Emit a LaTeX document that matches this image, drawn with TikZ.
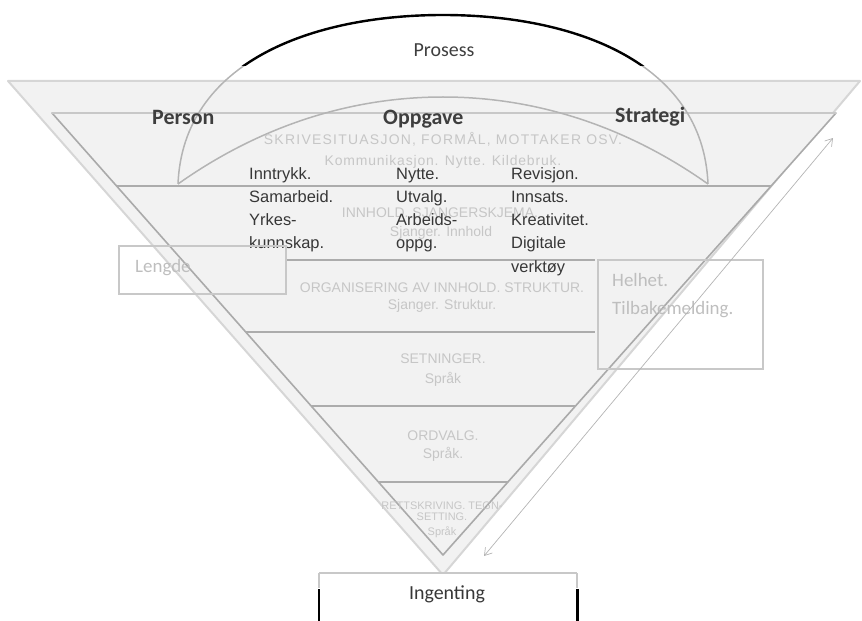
\documentclass[tikz,border=0pt]{standalone}
\usepackage{fontspec}
\setmainfont{Carlito}
\newfontfamily\arial{Liberation Sans}
\newfontfamily\arialwide{Liberation Sans}[LetterSpace=9]
\newfontfamily\arialmid{Liberation Sans}[LetterSpace=6]
\usetikzlibrary{arrows.meta}
\definecolor{trifill}{RGB}{242,242,242}
\definecolor{outeredge}{RGB}{214,214,214}
\definecolor{inneredge}{RGB}{170,170,170}
\definecolor{layerline}{RGB}{172,172,172}
\definecolor{arcgrey}{RGB}{180,180,180}
\definecolor{boxedge}{RGB}{200,200,200}
\definecolor{fainttxt}{RGB}{198,198,198}
\definecolor{boxtxt}{RGB}{190,190,190}
\definecolor{darktxt}{RGB}{55,55,55}
\definecolor{headtxt}{RGB}{62,62,62}
\begin{document}
\begin{tikzpicture}[x=1bp,y=-1bp,
  layer/.style={draw=layerline, line width=1.6bp},
  lensline/.style={draw=arcgrey, line width=1.5bp},
  darkline/.style={font=\arial\fontsize{16.5}{20}\selectfont, text=darktxt, inner sep=0pt, anchor=base west},
  faint/.style={font=\arial\fontsize{14}{16}\selectfont, text=fainttxt, inner sep=0pt, anchor=base},
  tiny/.style={font=\arial\fontsize{11}{13}\selectfont, text=fainttxt, inner sep=0pt, anchor=base},
  head/.style={font=\bfseries\fontsize{22}{24}\selectfont, text=headtxt, inner sep=0pt, anchor=base west},
  sidebox/.style={draw=boxedge, line width=2bp, inner sep=0pt, anchor=north west},
  boxlabel/.style={font=\fontsize{19}{27}\selectfont, text=boxtxt, inner sep=0pt, anchor=base west}
]
\useasboundingbox (0,0) rectangle (862,621);

% outer funnel
\filldraw[fill=trifill, draw=outeredge, line width=2bp, line join=round]
  (8,81) -- (860,81) -- (443,575) -- cycle;
% inner funnel
\filldraw[fill=trifill, draw=inneredge, line width=1.6bp, line join=round]
  (52,113) -- (836,113) -- (443,555) -- cycle;
\draw[draw=boxedge, line width=1.6bp] (52,113) -- (836,113);

% layer dividers
\draw[layer] (117,186) -- (771,186);
\draw[layer] (285,260) -- (595,260);
\draw[layer] (246,332) -- (595,332);
\draw[layer] (311,406) -- (576,406);
\draw[layer] (378,482) -- (508,482);

% process lens
\coordinate (lensL) at (178,184);
\coordinate (lensR) at (708,184);
\coordinate (lensTop) at (443,15);
\coordinate (lensIn) at (443,97);
\draw[lensline] (lensL) .. controls (183,62) and (312,15) .. (lensTop)
  .. controls (574,15) and (703,62) .. (lensR);
\draw[lensline] (lensL) .. controls (240,140) and (330,97) .. (lensIn)
  .. controls (556,97) and (646,140) .. (lensR);
\begin{scope}
  \clip (0,0) rectangle (862,66);
  \draw[black, line width=2.4bp] (lensL) .. controls (183,62) and (312,15) .. (lensTop)
    .. controls (574,15) and (703,62) .. (lensR);
\end{scope}

\node[font=\fontsize{20}{22}\selectfont, text=headtxt, inner sep=0pt, anchor=base] (prosess) at (444,57) {Prosess};

% headings
\node[head] (person) at (152,125) {Person};
\node[head] (oppgave) at (383,125) {Oppgave};
\node[head] (strategi) at (615,123) {Strategi};

% layer captions
\node[faint, font=\arialwide\fontsize{14}{16}\selectfont] (l1a) at (443,145) {SKRIVESITUASJON, FORMÅL, MOTTAKER OSV.};
\node[faint, font=\arialmid\fontsize{14}{16}\selectfont] (l1b) at (443,166) {Kommunikasjon. Nytte. Kildebruk.};
\node[faint] (l2a) at (440,218) {INNHOLD. SJANGERSKJEMA.};
\node[faint] (l2b) at (441,237) {Sjanger. Innhold};
\node[faint] (l3a) at (442,292) {ORGANISERING AV INNHOLD. STRUKTUR.};
\node[faint] (l3b) at (442,309) {Sjanger. Struktur.};
\node[faint] (l4a) at (443,363) {SETNINGER.};
\node[faint] (l4b) at (443,383) {Språk};
\node[faint] (l5a) at (443,440) {ORDVALG.};
\node[faint] (l5b) at (443,458) {Språk.};
\node[tiny] (l6a) at (442,509) {RETTSKRIVING. TEGN-};
\node[tiny] (l6b) at (442,520) {SETTING.};
\node[tiny] (l6c) at (442,535) {Språk};

% three columns of key words
\foreach \w [count=\i] in {Inntrykk., Samarbeid., Yrkes-, kunnskap.}
  \node[darkline] (per\i) at (249,{180+23*(\i-1)}) {\w};
\foreach \w [count=\i] in {Nytte., Utvalg., Arbeids-, oppg.}
  \node[darkline] (opp\i) at (396,{180+23*(\i-1)}) {\w};
\foreach \w [count=\i] in {Revisjon., Innsats., Kreativitet., Digitale, verktøy}
  \node[darkline] (str\i) at (511,{180+23*(\i-1)}) {\w};

% side boxes
\node[sidebox, minimum width=167bp, minimum height=48bp] (lengdebox) at (118,245) {};
\node[boxlabel] (lengde) at (135,272) {Lengde};
\node[sidebox, minimum width=165bp, minimum height=109bp] (helhetbox) at (597,259) {};
\node[boxlabel] (helhet) at (612,286) {Helhet.};
\node[boxlabel] (tilbake) at (612,314) {Tilbakemelding.};

% feedback arrow along the right side
\coordinate (arrTop) at (833,138);
\coordinate (arrBot) at (484,556);
\draw[draw=arcgrey, line width=0.7bp, {Straight Barb[length=7bp,width=9bp]}-{Straight Barb[length=7bp,width=9bp]}]
  (arrBot) -- (arrTop);

% bottom box
\node[fill=white, inner sep=0pt, minimum width=258bp, minimum height=60bp, anchor=north west] (ingbox) at (319,573) {};
\draw[draw=boxedge, line width=2bp] (ingbox.north west) -- (ingbox.north east);
\draw[draw=boxedge, line width=2bp] (ingbox.north west) -- ++(0,15);
\draw[draw=boxedge, line width=2bp] (ingbox.north east) -- ++(0,15);
\draw[black, line width=2.6bp] ([yshift=-16bp]ingbox.north west) -- (ingbox.south west);
\draw[black, line width=2.6bp] ([yshift=-16bp]ingbox.north east) -- (ingbox.south east);
\node[font=\fontsize{20}{22}\selectfont, text=darktxt, inner sep=0pt, anchor=base] (ing) at (447,599) {Ingenting};
\end{tikzpicture}
\end{document}
